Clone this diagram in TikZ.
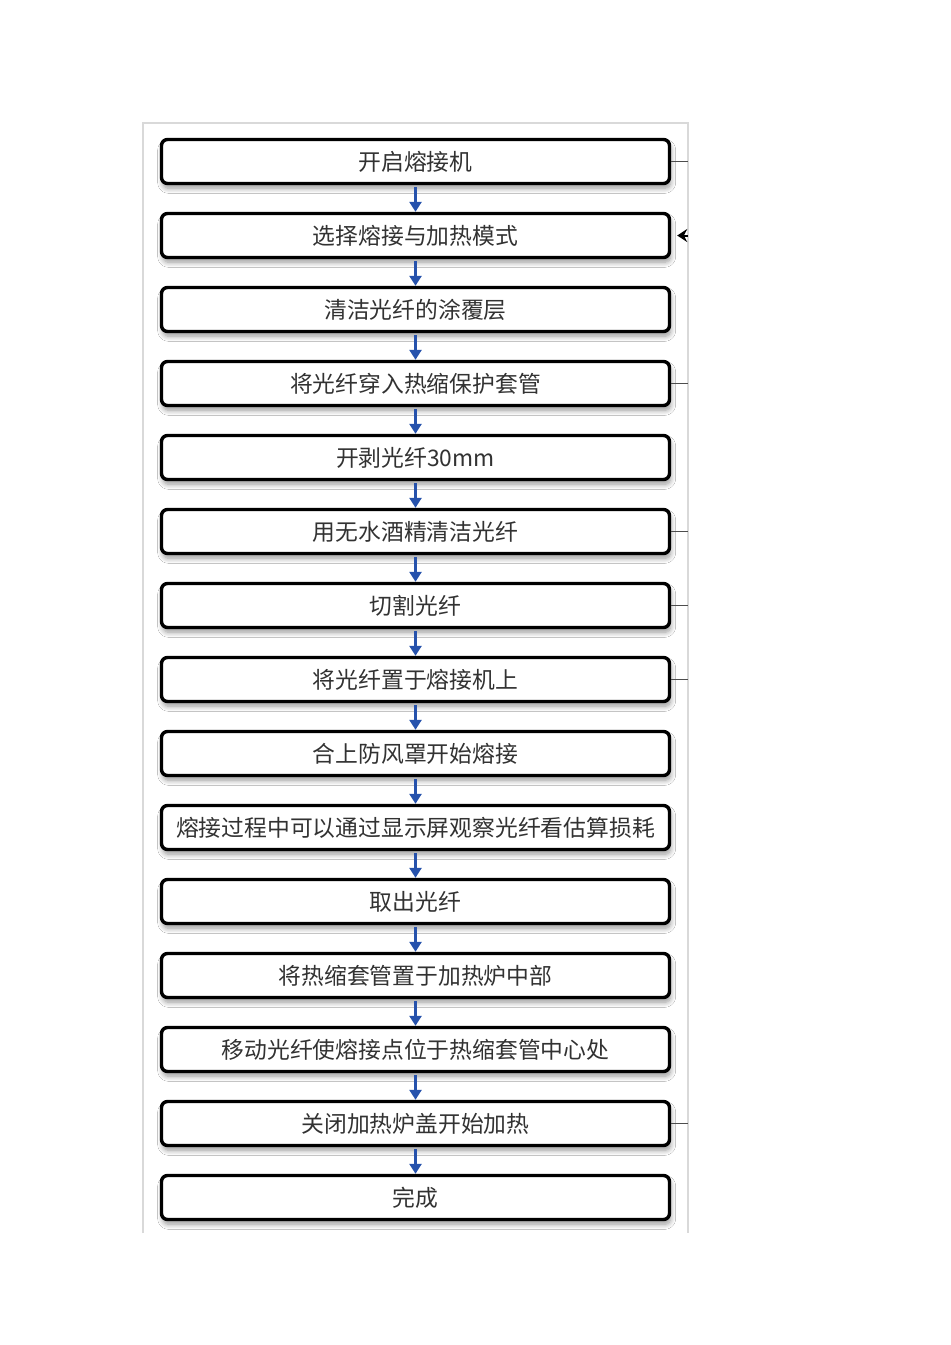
\documentclass[tikz,border=0pt]{standalone}
\usepackage{fontspec}
\newfontfamily\cjk{Noto Sans CJK SC}
\usetikzlibrary{arrows.meta,shadows.blur}
\definecolor{flowblue}{RGB}{38,82,172}
\definecolor{boxtext}{RGB}{50,50,50}
\tikzset{
  stepbox/.style={draw=black,line width=1.7pt,rounded corners=3pt,fill=white,
    minimum width=254pt,minimum height=22pt,inner sep=0pt,text=boxtext,
    font=\cjk\fontsize{11.4}{13}\selectfont,
    blur shadow={shadow xshift=0.6pt,shadow yshift=-2.4pt,shadow blur steps=8,shadow blur radius=2.5pt,shadow opacity=40}},
  flowarrow/.style={flowblue,line width=1.8pt,-{Triangle[length=5pt,width=6pt]}},
  stub/.style={draw=black!70,line width=0.8pt},
  frame/.style={draw=black!15,line width=0.6pt}
}
\begin{document}
\begin{tikzpicture}[x=0.5pt,y=-0.5pt]
    \useasboundingbox (0,0) rectangle (950,1345);
    \fill[white] (0,0) rectangle (950,1345);
    % frame
    \coordinate (ftl) at (143,123);
    \coordinate (ftr) at (688,123);
    \draw[frame] (143,1233) -- (ftl) -- (ftr) -- (688,1233);
    % steps
    \foreach \t [count=\i] in {开启熔接机,选择熔接与加热模式,清洁光纤的涂覆层,将光纤穿入热缩保护套管,开剥光纤30mm,用无水酒精清洁光纤,切割光纤,将光纤置于熔接机上,合上防风罩开始熔接,熔接过程中可以通过显示屏观察光纤看估算损耗,取出光纤,将热缩套管置于加热炉中部,移动光纤使熔接点位于热缩套管中心处,关闭加热炉盖开始加热,完成}{
        \node[stepbox] (n\i) at (415.5,{161.5+74*(\i-1)}) {\t};
    }
    \foreach \i [evaluate=\i as \j using int(\i+1)] in {1,...,14}{
        \draw[flowarrow,shorten <=1pt] (n\i.south) -- (n\j.north);
    }
    % cut connectors on the right
    \foreach \i in {1,4,6,7,8,14}{
        \draw[stub] (n\i.east) -- (n\i.east -| ftr);
    }
    \coordinate (r2) at (n2.east -| ftr);
    \draw[black,line width=1pt,-{Stealth[length=5pt,width=6.5pt]},shorten >=3pt] (r2) -- (n2.east);
\end{tikzpicture}
\end{document}
